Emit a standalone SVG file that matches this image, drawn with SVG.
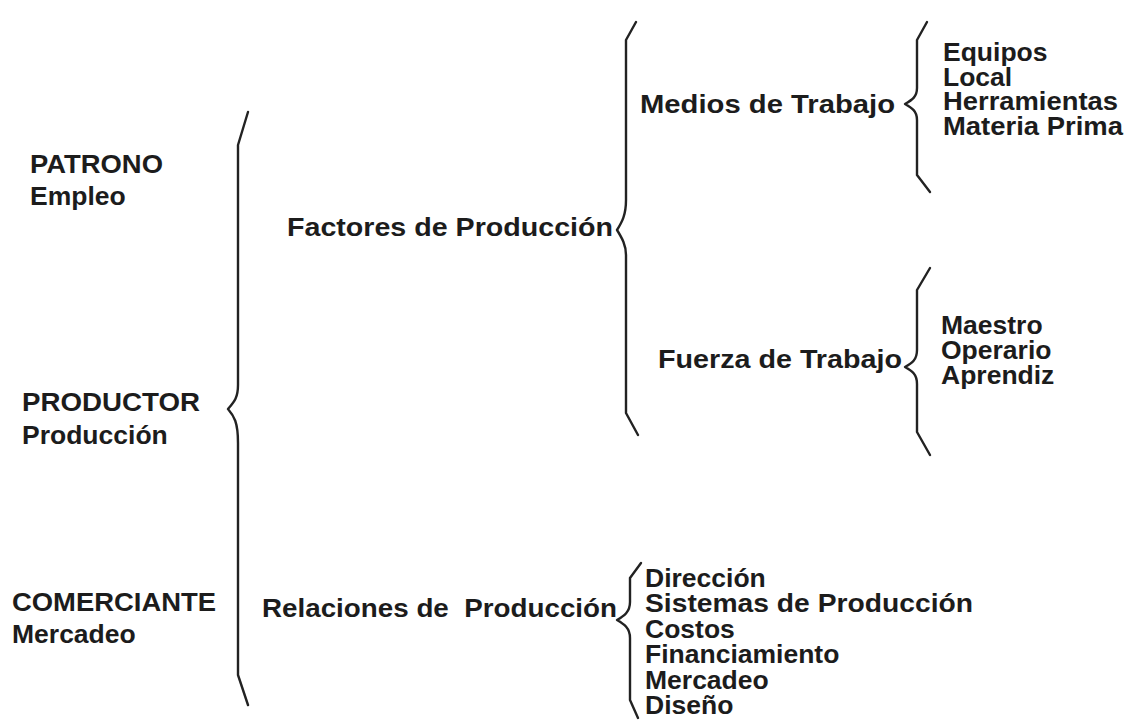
<svg xmlns="http://www.w3.org/2000/svg" width="1128" height="723" viewBox="0 0 1128 723">
<style>
text{font-family:"Liberation Sans",Arial,sans-serif;font-weight:bold;font-size:26.5px;fill:#1c1c1c}
.b{fill:none;stroke:#222;stroke-width:2.4;stroke-linejoin:round;stroke-linecap:round}
</style>
<rect width="1128" height="723" fill="#fff"/>
<g id="connectors">
<path class="b" d="M248,112 L238,145 L238,385 C238,398 234,402 228,409 C234,416 238,422 238,443 L238,675 L248,705"/>
<path class="b" d="M636,22 L626,40 L626,200 C626,215 622,222 617,230 C622,238 626,245 626,255 L626,413 L638,435"/>
<path class="b" d="M927,22 L917,40 L917,88 C917,97 912,100 905,104 C912,108 917,111 917,120 L917,175 L930,192"/>
<path class="b" d="M930,268 L917,290 L917,350 C917,360 912,363 905,367 C912,371 917,374 917,384 L917,432 L930,455"/>
<path class="b" d="M641,563 L630,578 L630,602 C630,612 624,616 617,620 C624,624 630,628 630,638 L630,700 L638,718"/>
</g>
<g id="patrono"><text x="30" y="173" textLength="133" lengthAdjust="spacingAndGlyphs">PATRONO</text><text x="30" y="205">Empleo</text></g>
<g id="productor"><text x="22" y="411" textLength="178" lengthAdjust="spacingAndGlyphs">PRODUCTOR</text><text x="22" y="444">Producción</text></g>
<g id="comerciante"><text x="12" y="611" textLength="204" lengthAdjust="spacingAndGlyphs">COMERCIANTE</text><text x="12" y="643">Mercadeo</text></g>
<g id="factores"><text x="287" y="236" textLength="326" lengthAdjust="spacingAndGlyphs">Factores de Producción</text></g>
<g id="relaciones"><text x="262" y="617" textLength="355" lengthAdjust="spacingAndGlyphs" xml:space="preserve">Relaciones de  Producción</text></g>
<g id="medios"><text x="640" y="113" textLength="255" lengthAdjust="spacingAndGlyphs">Medios de Trabajo</text></g>
<g id="fuerza"><text x="658" y="368" textLength="244" lengthAdjust="spacingAndGlyphs">Fuerza de Trabajo</text></g>
<g id="medios-items"><text x="943" y="61">Equipos</text><text x="943" y="86">Local</text><text x="943" y="110" textLength="175" lengthAdjust="spacingAndGlyphs">Herramientas</text><text x="943" y="135" textLength="180" lengthAdjust="spacingAndGlyphs">Materia Prima</text></g>
<g id="fuerza-items"><text x="941" y="334">Maestro</text><text x="941" y="359">Operario</text><text x="941" y="384">Aprendiz</text></g>
<g id="relaciones-items"><text x="645" y="587">Dirección</text><text x="645" y="612" textLength="328" lengthAdjust="spacingAndGlyphs">Sistemas de Producción</text><text x="645" y="638">Costos</text><text x="645" y="663">Financiamiento</text><text x="645" y="689">Mercadeo</text><text x="645" y="714">Diseño</text></g>
</svg>
